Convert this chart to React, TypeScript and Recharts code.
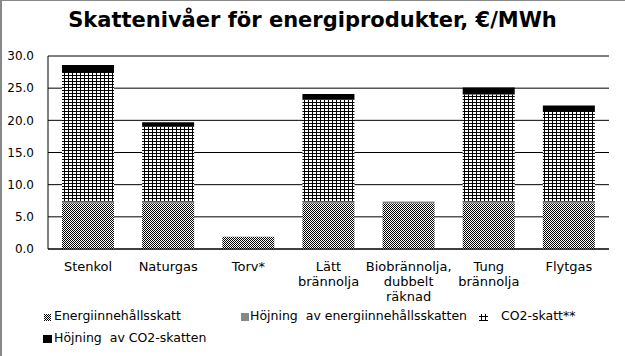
import React from "react";
import { BarChart, Bar, XAxis, YAxis, CartesianGrid, Legend } from "recharts";

const categories = [
  "Stenkol",
  "Naturgas",
  "Torv*",
  "Lätt brännolja",
  "Biobrännolja, dubbelt räknad",
  "Tung brännolja",
  "Flytgas",
];
const tickLines = [
  ["Stenkol"],
  ["Naturgas"],
  ["Torv*"],
  ["Lätt", "brännolja"],
  ["Biobrännolja,", "dubbelt", "räknad"],
  ["Tung", "brännolja"],
  ["Flytgas"],
];
const energiskatt = [7.1, 7.1, 1.9, 7.1, 7.1, 7.1, 7.1];
const hojningEnergi = [0.3, 0.3, 0, 0.3, 0.3, 0.3, 0.3];
const co2skatt = [20.1, 11.6, 0, 15.8, 0, 16.6, 13.9];
const hojningCo2 = [1.1, 0.7, 0, 0.9, 0, 1.1, 1.0];
const yTicks = [0, 5, 10, 15, 20, 25, 30];

const data = categories.map((name, i) => ({
  name,
  energi: energiskatt[i],
  hojEnergi: hojningEnergi[i],
  co2: co2skatt[i],
  hojCo2: hojningCo2[i],
}));

const FONT = "'DejaVu Sans', sans-serif";

function CategoryTick({ x, y, payload }: any) {
  const lines = tickLines[payload.index] || [payload.value];
  return (
    <text x={x} y={y} textAnchor="middle" fontSize={13} fontFamily={FONT} fill="#000">
      {lines.map((l, i) => (
        <tspan key={i} x={x} dy={i === 0 ? 13.5 : 15}>
          {l}
        </tspan>
      ))}
    </text>
  );
}

function LegendBox() {
  const txt: React.CSSProperties = {
    position: "absolute",
    fontFamily: FONT,
    fontSize: 12.5,
    lineHeight: "15px",
    color: "#000",
    whiteSpace: "pre",
  };
  return (
    <div style={{ position: "relative", width: 625, height: 52 }}>
      <svg style={{ position: "absolute", left: 44, top: 10 }} width={7} height={7}>
        <rect width={7} height={7} fill="url(#energiPat)" />
      </svg>
      <div style={{ ...txt, left: 54, top: 4 }}>Energiinnehållsskatt</div>

      <svg style={{ position: "absolute", left: 241, top: 9 }} width={8} height={8}>
        <rect width={8} height={8} fill="#888888" />
      </svg>
      <div style={{ ...txt, left: 250, top: 4 }}>Höjning  av energiinnehållsskatten</div>

      <svg style={{ position: "absolute", left: 479, top: 9 }} width={9} height={8}>
        <line x1={0} x2={9} y1={3.5} y2={3.5} stroke="#000" />
        <line x1={0} x2={9} y1={7.5} y2={7.5} stroke="#000" />
        <line x1={2.5} x2={2.5} y1={1} y2={8} stroke="#000" />
        <line x1={6.5} x2={6.5} y1={1} y2={8} stroke="#000" />
      </svg>
      <div style={{ ...txt, left: 501, top: 4 }}>CO2-skatt**</div>

      <svg style={{ position: "absolute", left: 43, top: 31 }} width={9} height={8}>
        <rect width={9} height={8} fill="#000" />
      </svg>
      <div style={{ ...txt, left: 54, top: 26 }}>Höjning  av CO2-skatten</div>
    </div>
  );
}

export default function App() {
  return (
    <div style={{ position: "absolute", left: 0, top: 0, width: 625, height: 356, background: "#fff" }}>
      <svg width={0} height={0} style={{ position: "absolute" }}>
        <defs>
          <pattern id="energiPat" patternUnits="userSpaceOnUse" width={2} height={2}>
            <rect width={2} height={2} fill="#fff" />
            <rect x={0} y={0} width={1} height={1} fill="#000" />
            <rect x={1} y={1} width={1} height={1} fill="#000" />
          </pattern>
          <pattern id="co2Pat" patternUnits="userSpaceOnUse" width={4} height={3}>
            <rect width={4} height={3} fill="#fff" />
            <rect x={0} y={0} width={1} height={3} fill="#000" />
            <rect x={0} y={0} width={4} height={1} fill="#000" />
          </pattern>
        </defs>
      </svg>
      <div
        style={{
          position: "absolute",
          left: 0,
          top: 10,
          width: 625,
          textAlign: "center",
          fontFamily: FONT,
          fontWeight: "bold",
          fontSize: 21,
          lineHeight: "21px",
          color: "#000",
        }}
      >
        Skattenivåer för energiprodukter, €/MWh
      </div>
      <BarChart
        width={625}
        height={356}
        data={data}
        margin={{ top: 56, right: 16, left: 8, bottom: 0 }}
        barSize={52}
        style={{ fontFamily: FONT }}
      >
        <CartesianGrid vertical={false} stroke="#000" strokeOpacity={1} />
        <XAxis
          dataKey="name"
          interval={0}
          height={55}
          axisLine={{ stroke: "#000" }}
          tickLine={false}
          tick={<CategoryTick />}
        />
        <YAxis
          width={40}
          domain={[0, 30]}
          ticks={yTicks}
          tickFormatter={(v: number) => v.toFixed(1)}
          axisLine={{ stroke: "#000" }}
          tickLine={false}
          tickSize={6}
          tickMargin={8}
          tick={{ fill: "#000", fontSize: 12, fontFamily: FONT }}
        />
        <Legend
          verticalAlign="bottom"
          content={() => <LegendBox />}
          wrapperStyle={{ left: 0, width: 625, height: 52 }}
        />
        <Bar dataKey="energi" stackId="a" fill="url(#energiPat)" isAnimationActive={false} name="Energiinnehållsskatt" />
        <Bar dataKey="hojEnergi" stackId="a" fill="#888888" isAnimationActive={false} name="Höjning av energiinnehållsskatten" />
        <Bar dataKey="co2" stackId="a" fill="url(#co2Pat)" isAnimationActive={false} name="CO2-skatt**" />
        <Bar dataKey="hojCo2" stackId="a" fill="#000" isAnimationActive={false} name="Höjning av CO2-skatten" />
      </BarChart>
      <div style={{ position: "absolute", left: 0, top: 0, width: 625, height: 1, background: "#888" }} />
      <div style={{ position: "absolute", left: 0, top: 0, width: 2, height: 356, background: "#888" }} />
    </div>
  );
}
